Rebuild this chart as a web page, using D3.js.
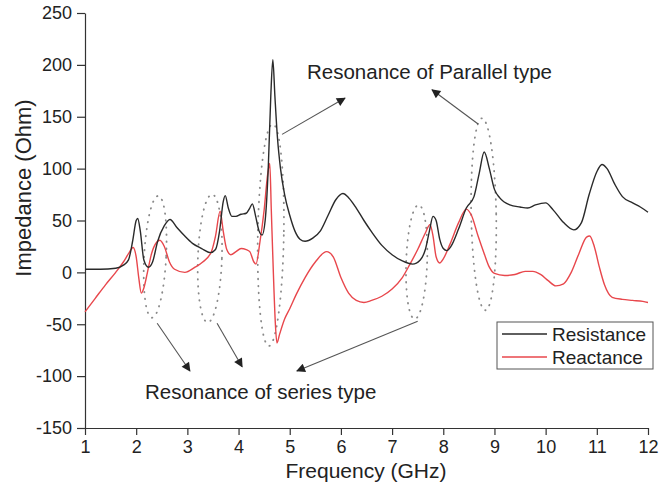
<!DOCTYPE html>
<html>
<head>
<meta charset="utf-8">
<script src="https://cdn.jsdelivr.net/npm/d3@7"></script>
<style>
  body { margin: 0; background: #fff; }
  text { font-family: Arial, "Liberation Sans", sans-serif; fill: #222; }
</style>
</head>
<body>
<div id="container"></div>
<script>
// resistance curve (GHz, Ohm)
let resFreq = [1.0, 1.3, 1.6, 1.75, 1.85, 1.93, 2.0, 2.03, 2.08, 2.15, 2.24, 2.32, 2.42, 2.55, 2.66, 2.8, 2.95, 3.1, 3.28, 3.45, 3.55, 3.63, 3.7, 3.74, 3.8, 3.87, 3.95, 4.05, 4.15, 4.22, 4.27, 4.33, 4.4, 4.46, 4.52, 4.58, 4.63, 4.67, 4.71, 4.76, 4.82, 4.9, 5.0, 5.1, 5.2, 5.3, 5.45, 5.6, 5.75, 5.9, 6.04, 6.15, 6.3, 6.45, 6.6, 6.8, 7.0, 7.2, 7.4, 7.55, 7.65, 7.73, 7.8, 7.86, 7.93, 8.0, 8.07, 8.15, 8.3, 8.45, 8.6, 8.7, 8.8, 8.9, 9.0, 9.1, 9.3, 9.5, 9.65, 9.8, 10.0, 10.15, 10.35, 10.55, 10.7, 10.85, 11.0, 11.1, 11.2, 11.35, 11.5, 11.7, 11.85, 12.0];
let resistance = [3, 3, 4, 7, 12, 30, 50, 52, 40, 12, 5, 10, 30, 45, 51, 43, 35, 28, 23, 19, 22, 40, 68, 74, 62, 54, 54, 56, 57, 62, 66, 55, 40, 36, 50, 100, 170, 205, 170, 130, 100, 75, 55, 40, 32, 30, 33, 40, 55, 70, 76, 72, 62, 50, 39, 26, 17, 11, 8, 12, 22, 40, 54, 50, 32, 23, 21, 25, 42, 62, 73, 95, 116, 100, 80, 72, 65, 63, 62, 65, 67, 60, 48, 41, 48, 75, 97, 104, 100, 85, 73, 67, 63, 58];

// reactance curve (GHz, Ohm)
let reaFreq = [1.0, 1.2, 1.4, 1.6, 1.75, 1.85, 1.94, 2.0, 2.05, 2.1, 2.15, 2.22, 2.3, 2.4, 2.46, 2.55, 2.65, 2.75, 2.95, 3.15, 3.3, 3.47, 3.55, 3.64, 3.7, 3.77, 3.85, 3.95, 4.05, 4.15, 4.22, 4.3, 4.34, 4.42, 4.5, 4.57, 4.61, 4.64, 4.68, 4.72, 4.75, 4.8, 4.9, 5.0, 5.13, 5.3, 5.5, 5.72, 5.85, 6.0, 6.15, 6.3, 6.45, 6.6, 6.8, 7.0, 7.2, 7.35, 7.5, 7.65, 7.74, 7.8, 7.86, 7.93, 8.0, 8.13, 8.3, 8.45, 8.55, 8.68, 8.8, 8.9, 9.0, 9.2, 9.4, 9.6, 9.75, 9.9, 10.05, 10.2, 10.35, 10.5, 10.65, 10.8, 10.86, 10.95, 11.05, 11.15, 11.3, 11.5, 11.7, 11.9, 12.0];
let reactance = [-38, -25, -12, 0, 10, 18, 24, 15, -5, -20, -15, 0, 18, 29, 31, 25, 10, 3, 0, 5, 10, 20, 35, 59, 40, 22, 17, 20, 23, 22, 20, 10, 8, 30, 60, 95, 105, 60, 0, -50, -68, -60, -45, -35, -21, -5, 10, 20, 15, -5, -20, -27, -29, -27, -23, -16, -5, 8, 22, 38, 46, 35, 15, 9, 13, 27, 48, 61, 55, 35, 18, 5, -1, -3, -2, 1, 1, -2, -8, -13, -11, 0, 18, 34, 35, 25, 5, -12, -24, -26, -27, -28, -29];

let xTicks = [1, 2, 3, 4, 5, 6, 7, 8, 9, 10, 11, 12];
let yTicks = [-150, -100, -50, 0, 50, 100, 150, 200, 250];

// dotted ellipses round the resonances: centre (GHz, Ohm)
let ellipseFreq = [2.37, 3.44, 4.63, 7.48, 8.79];
let ellipseOhm = [15, 13.5, 36, 10, 56];

// annotation arrows: from (GHz, Ohm) to (GHz, Ohm)
let arrowFrom = [[2.41, -49], [3.58, -49], [7.5, -47], [4.85, 133], [8.68, 143]];
let arrowTo = [[3.05, -95], [4.07, -91], [5.14, -95], [6.08, 168], [7.78, 176]];

let w = 659;
let h = 493;

let viz = d3.select("#container")
  .append("svg")
    .attr("width", w)
    .attr("height", h)
;

let xScale = d3.scaleLinear().domain([1, 12]).range([85, 648]);
let yScale = d3.scaleLinear().domain([-150, 250]).range([428, 13]);

// arrow head
viz.append("defs").append("marker")
    .attr("id", "head")
    .attr("viewBox", "0 0 10 10")
    .attr("refX", 9)
    .attr("refY", 5)
    .attr("markerWidth", 11)
    .attr("markerHeight", 9)
    .attr("markerUnits", "userSpaceOnUse")
    .attr("orient", "auto")
  .append("path")
    .attr("d", "M0,0 L10,5 L0,10 z")
    .attr("fill", "#222")
;

// plain hyphen for negatives, like the original
let plain = function(d){ return String(d); };

// axes
let xAxisGroup = viz.append("g")
    .attr("transform", "translate(0," + yScale(-150) + ")")
;
xAxisGroup.call(d3.axisBottom(xScale).tickValues(d3.range(1.5, 12, 1)).tickSize(4).tickSizeOuter(0).tickFormat(""));
xAxisGroup.call(d3.axisBottom(xScale).tickValues(xTicks).tickSize(7).tickSizeOuter(0).tickPadding(5).tickFormat(plain));

let yAxisGroup = viz.append("g")
    .attr("transform", "translate(" + xScale(1) + ",0)")
;
yAxisGroup.call(d3.axisLeft(yScale).tickValues(d3.range(-125, 250, 50)).tickSize(4).tickSizeOuter(0).tickFormat(""));
yAxisGroup.call(d3.axisLeft(yScale).tickValues(yTicks).tickSize(8).tickSizeOuter(0).tickPadding(5).tickFormat(plain));

viz.selectAll(".domain, .tick line")
    .attr("stroke", "#333")
    .attr("stroke-width", 1.2)
;
viz.selectAll(".tick text")
    .style("font-size", "18px")
    .style("font-family", "Arial, 'Liberation Sans', sans-serif")
    .attr("fill", "#222")
;

// axis titles
viz.append("text")
    .attr("x", 366)
    .attr("y", 478)
    .attr("text-anchor", "middle")
    .style("font-size", "21px")
    .text("Frequency (GHz)")
;
viz.append("text")
    .attr("transform", "translate(31,188) rotate(-90)")
    .attr("text-anchor", "middle")
    .style("font-size", "22px")
    .text("Impedance (Ohm)")
;

// dotted ellipses
let ellRx = [11, 12, 13, 10.5, 12.5];
let ellRy = [61, 64, 111, 57, 96];
let ellTilt = [3, 2, 1, 2, -1];
for (let i = 0; i < ellipseFreq.length; i++) {
  viz.append("ellipse")
      .attr("transform", "translate(" + xScale(ellipseFreq[i]) + "," + yScale(ellipseOhm[i]) + ") rotate(" + ellTilt[i] + ")")
      .attr("rx", ellRx[i])
      .attr("ry", ellRy[i])
      .attr("fill", "none")
      .attr("stroke", "#8a8a8a")
      .attr("stroke-width", 1.8)
      .attr("stroke-linecap", "round")
      .attr("stroke-dasharray", "0.5,6.5")
  ;
}

// curves
let lineMaker = d3.line()
    .x(function(d){ return xScale(d[0]); })
    .y(function(d){ return yScale(d[1]); })
    .curve(d3.curveMonotoneX)
;

let resData = resFreq.map(function(f, i){ return [f, resistance[i]]; });
let reaData = reaFreq.map(function(f, i){ return [f, reactance[i]]; });

viz.append("path")
    .datum(reaData)
    .attr("d", lineMaker)
    .attr("fill", "none")
    .attr("stroke", "#e8474c")
    .attr("stroke-width", 1.4)
;
viz.append("path")
    .datum(resData)
    .attr("d", lineMaker)
    .attr("fill", "none")
    .attr("stroke", "#2a2a2a")
    .attr("stroke-width", 1.4)
;

// arrows
for (let i = 0; i < arrowFrom.length; i++) {
  viz.append("line")
      .attr("x1", xScale(arrowFrom[i][0]))
      .attr("y1", yScale(arrowFrom[i][1]))
      .attr("x2", xScale(arrowTo[i][0]))
      .attr("y2", yScale(arrowTo[i][1]))
      .attr("stroke", "#555")
      .attr("stroke-width", 1.1)
      .attr("marker-end", "url(#head)")
  ;
}

// annotation texts
viz.append("text")
    .attr("x", 307)
    .attr("y", 79)
    .style("font-size", "20.5px")
    .text("Resonance of Parallel type")
;
viz.append("text")
    .attr("x", 145)
    .attr("y", 399)
    .style("font-size", "20.5px")
    .text("Resonance of series type")
;

// legend
let legend = viz.append("g");
legend.append("rect")
    .attr("x", 497)
    .attr("y", 322)
    .attr("width", 156)
    .attr("height", 47)
    .attr("fill", "#fff")
    .attr("stroke", "#555")
    .attr("stroke-width", 1)
;
let legNames = ["Resistance", "Reactance"];
let legColors = ["#2a2a2a", "#e8474c"];
legNames.forEach(function(name, i){
  let y = 334 + i * 23;
  legend.append("line")
      .attr("x1", 502)
      .attr("x2", 547)
      .attr("y1", y)
      .attr("y2", y)
      .attr("stroke", legColors[i])
      .attr("stroke-width", 1.4)
  ;
  legend.append("text")
      .attr("x", 552)
      .attr("y", y + 7)
      .style("font-size", "19px")
      .text(name)
  ;
});
</script>
</body>
</html>
